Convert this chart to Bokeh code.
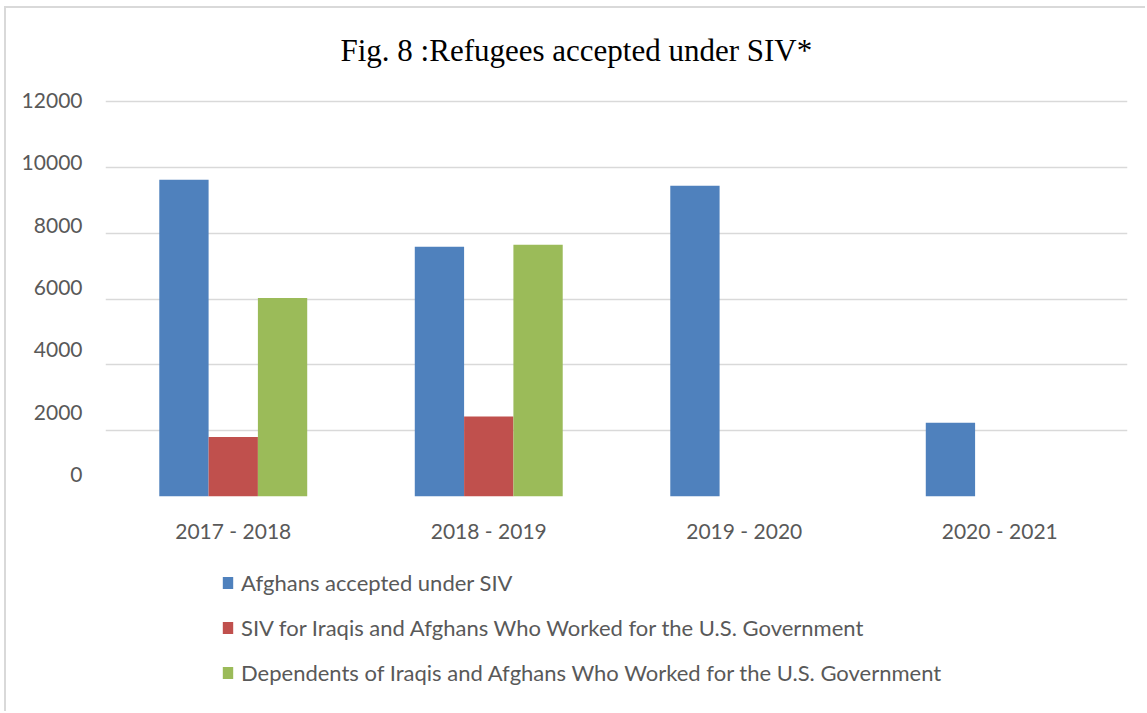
from bokeh.plotting import figure
from bokeh.layouts import column
from bokeh.models import (FactorRange, Range1d, LinearAxis, Grid, FixedTicker,
                          Legend, LegendItem, Title, ColumnDataSource)
from bokeh.transform import dodge
from bokeh.embed import file_html
from bokeh.resources import INLINE

years = ["2017 - 2018", "2018 - 2019", "2019 - 2020", "2020 - 2021"]
afghans_siv = [9620, 7590, 9440, 2240]
siv_iraqis_afghans = [1810, 2430, 0, 0]
dependents = [6030, 7650, 0, 0]
series_names = [
    "Afghans accepted under SIV",
    "SIV for Iraqis and Afghans Who Worked for the U.S. Government",
    "Dependents of Iraqis and Afghans Who Worked for the U.S. Government",
]
colors = ["#4F81BD", "#C0504D", "#9BBB59"]
y_ticks = [0, 2000, 4000, 6000, 8000, 10000, 12000]

source = ColumnDataSource(data=dict(year=years, s0=afghans_siv, s1=siv_iraqis_afghans, s2=dependents))

FONT = "Lato"
GRAY = "#595959"
FS = "21px"

p = figure(x_range=FactorRange(factors=years, range_padding=0),
           y_range=Range1d(0, 12638),
           width=1139, height=545, output_backend="svg", toolbar_location=None,
           y_axis_location=None,
           min_border_left=99, min_border_right=18, min_border_top=72, min_border_bottom=57)
p.outline_line_color = None
p.background_fill_color = "white"
p.border_fill_color = "white"

# remove default grids
p.center = [r for r in p.center if not isinstance(r, Grid)]
p.add_layout(Grid(dimension=1, ticker=FixedTicker(ticks=y_ticks),
                  grid_line_color="#d9d9d9", grid_line_width=1.5))

# label axis (Excel-like label placement)
p.extra_y_ranges = {"lbl": Range1d(-706, 12642)}
yax = LinearAxis(y_range_name="lbl", ticker=FixedTicker(ticks=y_ticks))
yax.axis_line_color = None
yax.major_tick_line_color = None
yax.minor_tick_line_color = None
yax.major_tick_out = 0
yax.major_tick_in = 0
yax.minor_tick_out = 0
yax.major_label_standoff = 23
yax.major_label_text_font = FONT
yax.major_label_text_font_size = FS
yax.major_label_text_color = GRAY
p.add_layout(yax, "left")

xax = p.xaxis[0]
xax.axis_line_color = None
xax.major_tick_line_color = None
xax.minor_tick_line_color = None
xax.major_tick_out = 0
xax.major_tick_in = 0
xax.major_label_standoff = 21
xax.major_label_text_font = FONT
xax.major_label_text_font_size = FS
xax.major_label_text_color = GRAY

w = 0.193
for i, (col, off) in enumerate(zip(["s0", "s1", "s2"], [-w, 0, w])):
    p.vbar(x=dodge("year", off, range=p.x_range), top=col, width=w, source=source,
           fill_color=colors[i], line_color=None)

title = Title(text="Fig. 8 :Refugees accepted under SIV*", align="left", offset=235,
              text_font="Liberation Serif", text_font_size="31px", text_font_style="normal",
              text_color="black", standoff=26)
p.add_layout(title, "above")

# legend strip below the chart (its frame is aligned with the chart's frame)
pl = figure(width=1139, height=158, output_backend="svg", toolbar_location=None,
            x_range=Range1d(0, 1), y_range=Range1d(0, 1),
            x_axis_location=None, y_axis_location=None,
            min_border_left=0, min_border_right=0, min_border_top=0, min_border_bottom=0)
pl.outline_line_color = None
pl.center = [r for r in pl.center if not isinstance(r, Grid)]
# zero-height swatch renderers (nothing visible), only used for the legend keys
legend_renderers = [pl.vbar(x=[0.5], top=[0], width=0.01, fill_color=c, line_color=None) for c in colors]
legend = Legend(items=[LegendItem(label=n, renderers=[r]) for n, r in zip(series_names, legend_renderers)],
                location=(116, 25), orientation="vertical",
                glyph_width=13, glyph_height=15, label_standoff=7, label_height=20,
                spacing=18, padding=0, margin=0, border_line_color=None,
                background_fill_alpha=0,
                label_text_font=FONT, label_text_font_size="22px", label_text_color=GRAY)
pl.add_layout(legend)

layout = column(p, pl, spacing=0)
layout.styles = {"margin-left": "4px", "margin-top": "6px",
                 "border-left": "2px solid #d9d9d9", "border-top": "2px solid #d9d9d9"}

open("out.html", "w").write(file_html(layout, INLINE))
